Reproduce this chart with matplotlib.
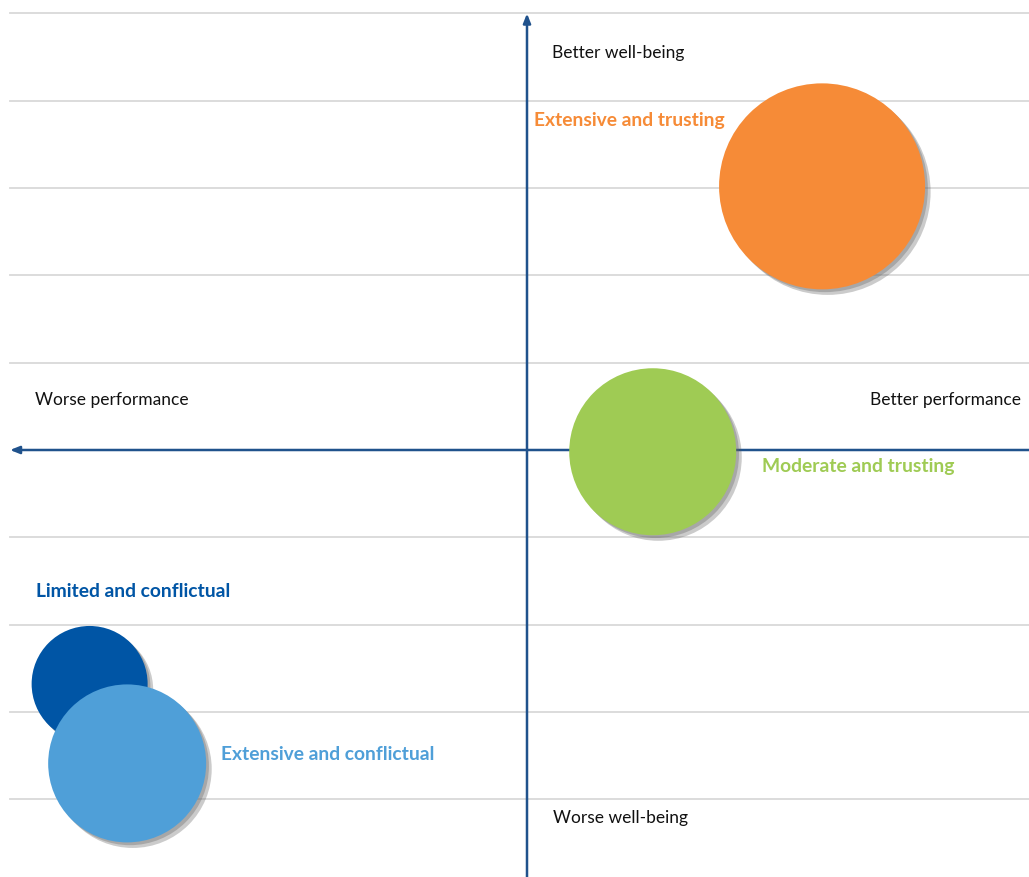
import numpy as np
import matplotlib
matplotlib.use("Agg")
import matplotlib.pyplot as plt
import matplotlib.patheffects as PathEffects

# bubble data (x = performance, y = well-being, d = bubble diameter)
groups = ['Limited and conflictual', 'Extensive and conflictual',
          'Moderate and trusting', 'Extensive and trusting']
perf = [-5.01, -4.58, 1.44, 3.38]
wellbeing = [-2.68, -3.59, -0.02, 3.02]
bubble_d = [116, 158, 167, 206]
colors = ['#0055a5', '#4f9fd8', '#9fcb54', '#f68b37']

grid_levels = [-4, -3, -2, -1, 1, 2, 3, 4, 5]
axis_labels = ['Better well-being', 'Worse well-being', 'Worse performance', 'Better performance']

plt.rcParams['font.family'] = ['Lato', 'DejaVu Sans']

W, H, DPI = 1029, 877, 100
fig = plt.figure(figsize=(W / DPI, H / DPI), dpi=DPI)
ax = fig.add_axes([0, 0, 1, 1])
unit = 87.3  # pixels per data unit
ax.set_xlim(-527 / unit, (W - 527) / unit)
ax.set_ylim(-(H - 450) / unit, 450 / unit)
ax.axis('off')

xmin, xmax = ax.get_xlim()
left = -517 / unit
for g in grid_levels:
    ax.plot([left, xmax], [g, g], color='#d9d9d9', lw=1.3, zorder=1)

axcol = '#20528c'
arrow = dict(arrowstyle='-|>,head_length=0.55,head_width=0.22', color=axcol, lw=1.8,
             shrinkA=0, shrinkB=0)
ax.annotate('', xy=(left, 0), xytext=(xmax, 0), arrowprops=arrow, zorder=2)
ax.annotate('', xy=(0, 5.0), xytext=(0, ax.get_ylim()[0]), arrowprops=arrow, zorder=2)

# bubbles, diameter in px -> marker area in pt^2
sizes = [(d * 72 / DPI) ** 2 for d in bubble_d]
for i in range(len(groups)):
    ax.scatter(perf[i], wellbeing[i], s=sizes[i], color=colors[i], edgecolors='none', zorder=3 + i,
               path_effects=[PathEffects.SimplePatchShadow(offset=(4, -4), shadow_rgbFace='#555555', alpha=0.3),
                             PathEffects.SimplePatchShadow(offset=(2, -2), shadow_rgbFace='#666666', alpha=0.35),
                             PathEffects.Normal()])

fs = 12.5
ax.text(25 / unit, 4.55, axis_labels[0], fontsize=fs, color='#111111', va='center', ha='left')
ax.text(26 / unit, -4.22, axis_labels[1], fontsize=fs, color='#111111', va='center', ha='left')
ax.text(-492 / unit, 0.57, axis_labels[2], fontsize=fs, color='#111111', va='center', ha='left')
ax.text(494 / unit, 0.57, axis_labels[3], fontsize=fs, color='#111111', va='center', ha='right')

label_pos = [(-491, -1.625, 'left'), (-306, -3.49, 'left'), (235, -0.19, 'left'), (7, 3.77, 'left')]
for i, (px, py, ha) in enumerate(label_pos):
    ax.text(px / unit, py, groups[i], fontsize=13.9, fontweight='bold', color=colors[i],
            va='center', ha=ha, zorder=10)

fig.savefig('out.png', dpi=DPI, facecolor='white')
